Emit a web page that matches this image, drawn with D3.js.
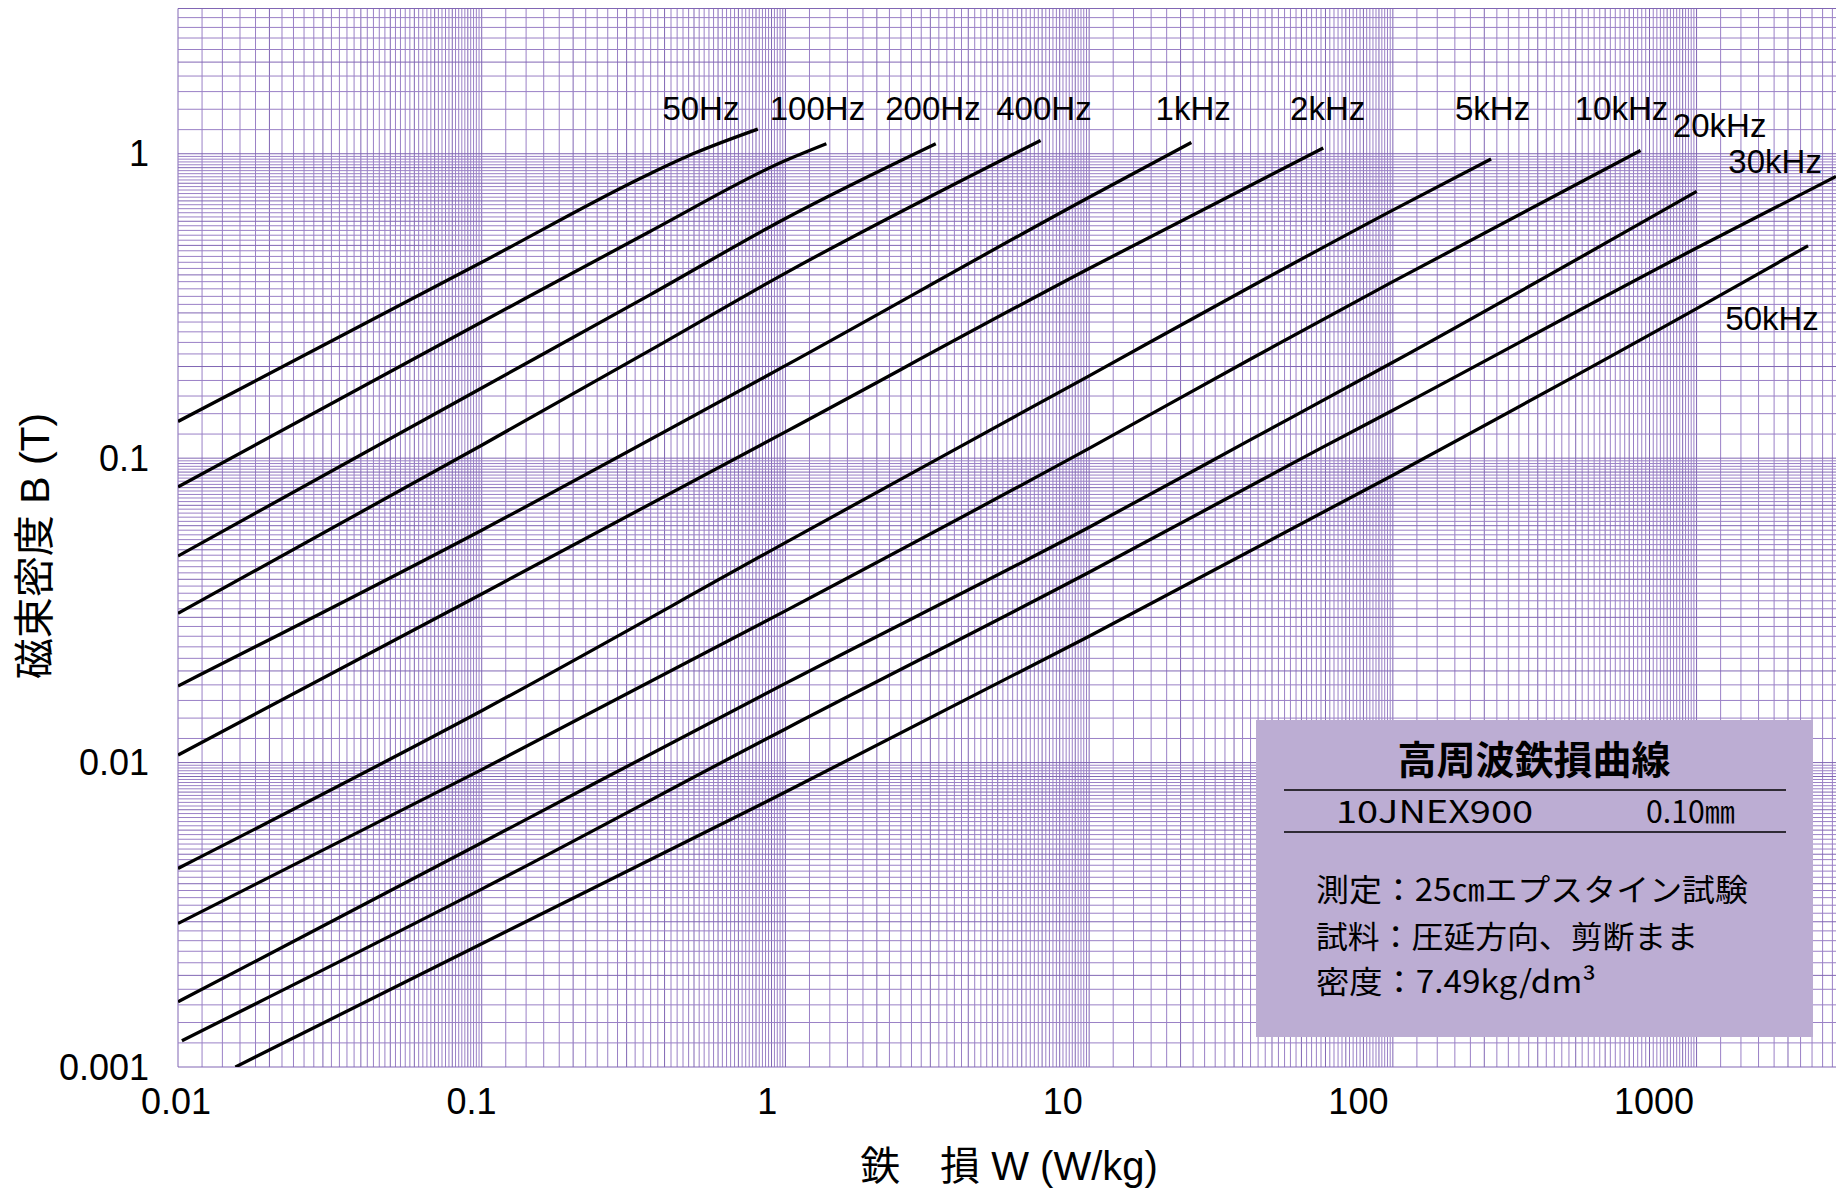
<!DOCTYPE html>
<html><head><meta charset="utf-8">
<script src="https://cdn.jsdelivr.net/npm/d3@7"></script>
<style>body{margin:0;background:#fff}</style>
</head><body>
<svg id="chart" width="1836" height="1190"></svg>
<script>
// ---------- data ----------
const frequencies = ["50Hz","100Hz","200Hz","400Hz","1kHz","2kHz","5kHz","10kHz","20kHz","30kHz","50kHz"];
// [iron loss W (W/kg), flux density B (T)]
const s50Hz  = [[0.01,0.132],[0.1,0.44],[0.358,0.86],[0.503,1.005],[0.811,1.205]];
const s100Hz = [[0.01,0.0805],[0.1,0.28],[0.358,0.5555],[1,0.95],[1.364,1.079]];
const s200Hz = [[0.01,0.0477],[0.1,0.17],[0.358,0.344],[1,0.613],[3.126,1.079]];
const s400Hz = [[0.01,0.0309],[0.1,0.1103],[0.358,0.226],[1,0.4054],[6.92,1.106]];
const s1kHz  = [[0.01,0.01785],[0.1,0.058],[1,0.2013],[10,0.72],[21.7,1.089]];
const s2kHz  = [[0.01,0.01059],[0.1,0.0358],[1,0.122],[10,0.42],[59,1.044]];
const s5kHz  = [[0.01,0.00449],[0.1,0.0148],[1,0.0528],[10,0.1864],[33.9,0.365],[100,0.653],[210.6,0.961]];
const s10kHz = [[0.01,0.00296],[0.1,0.00948],[1,0.0315],[10,0.1077],[33.9,0.2113],[100,0.38],[654,1.025]];
const s20kHz = [[0.01,0.001637],[0.1,0.00545],[1,0.0182],[10,0.0593],[33.9,0.1148],[100,0.2065],[1001,0.752]];
const s30kHz = [[0.0103,0.00122],[0.1,0.00384],[1,0.0129],[10,0.0422],[58,0.1079],[100,0.1437],[1000,0.49],[2878,0.842]];
const s50kHz = [[0.01545,0.001],[0.1,0.00254],[1,0.008],[10,0.026],[100,0.0879],[1000,0.31],[2328,0.4985]];
const seriesList = [s50Hz,s100Hz,s200Hz,s400Hz,s1kHz,s2kHz,s5kHz,s10kHz,s20kHz,s30kHz,s50kHz];
// label anchor (data units)
const labelW = [0.527,1.275,3.06,7.10,22.0,61.0,213,566,1191,1814,1773];
const labelB = [1.293,1.293,1.293,1.293,1.293,1.293,1.293,1.293,1.137,0.864,0.264];
const xTickLabels = ["0.01","0.1","1","10","100","1000"];
const yTickLabels = ["0.001","0.01","0.1","1"];
const xTitle = "鉄　損 W (W/kg)";
const yTitle = "磁束密度 B (T)";
const boxTitle = "高周波鉄損曲線";
const boxGrade = "10JNEX900";
const boxThick = "0.10㎜";
const boxNotes = ["測定：25㎝エプスタイン試験","試料：圧延方向、剪断まま","密度：7.49kg/dm³"];

// ---------- layout ----------
const svg = d3.select("#chart");
const L = 178, R = 1836, T = 8.5, B = 1067;
const x = d3.scaleLog().domain([0.01, 2878]).range([L, R]);
const y = d3.scaleLog().domain([0.001, 3]).range([B, T]);
const xLab = d3.scaleLog().domain([0.01, 1000]).range([176, 1654]);

svg.append("defs").append("clipPath").attr("id","clip")
  .append("rect").attr("x",L).attr("y",T).attr("width",R-L).attr("height",B-T);

// graph-paper grid
function gridVals(lo, hi, e0, e1){
  const v=[];
  for(let e=e0;e<=e1;e++){
    for(let k=0;k<45;k++){
      const m=(10+2*k)/10;
      const val=+(m*Math.pow(10,e)).toPrecision(6);
      if(val>=lo*0.9999 && val<=hi*1.0001) v.push({v:val, major: (10+2*k)%10===0});
    }
  }
  return v;
}
const gx = gridVals(0.01, 2878, -2, 3);
const gy = gridVals(0.001, 3, -3, 0);
const grid = svg.append("g");
grid.selectAll(".vx").data(gx).join("line")
  .attr("x1",d=>x(d.v)).attr("x2",d=>x(d.v)).attr("y1",T).attr("y2",B)
  .attr("stroke",d=>d.major?"#8166b4":"#9a80c6").attr("stroke-width",1);
grid.selectAll(".hy").data(gy).join("line")
  .attr("y1",d=>y(d.v)).attr("y2",d=>y(d.v)).attr("x1",L).attr("x2",R)
  .attr("stroke",d=>d.major?"#8166b4":"#9a80c6").attr("stroke-width",1);

// curves
const line = d3.line().x(d=>x(d[0])).y(d=>y(d[1])).curve(d3.curveMonotoneX);
svg.append("g").attr("clip-path","url(#clip)").selectAll("path").data(seriesList).join("path")
  .attr("d",line).attr("fill","none").attr("stroke","#000").attr("stroke-width",3.3)
  .attr("stroke-linecap","butt");

// curve labels
svg.append("g").selectAll("text").data(frequencies).join("text")
  .attr("x",(d,i)=>x(labelW[i])).attr("y",(d,i)=>y(labelB[i]))
  .attr("text-anchor","middle")
  .style("font-family","'Liberation Sans', Arial, sans-serif").style("font-size","33px")
  .attr("fill","#000").text(d=>d);

// tick labels
const tickFont = "'Liberation Sans', Arial, sans-serif";
svg.append("g").selectAll("text").data(xTickLabels).join("text")
  .attr("x",d=>xLab(+d)).attr("y",1101).attr("dy","0.35em")
  .attr("text-anchor","middle").style("font-family",tickFont).style("font-size","36px").text(d=>d);
svg.append("g").selectAll("text").data(yTickLabels).join("text")
  .attr("x",149).attr("y",d=>y(+d)).attr("dy","0.35em")
  .attr("text-anchor","end").style("font-family",tickFont).style("font-size","36px").text(d=>d);

// axis titles
const titleFont = "'Liberation Sans', 'Noto Sans CJK JP', sans-serif";
svg.append("text").attr("x",1009).attr("y",1166).attr("dy","0.35em").attr("text-anchor","middle")
  .style("font-family",titleFont).style("font-size","40px").text(xTitle);
svg.append("text").attr("transform","translate(35,546) rotate(-90)").attr("dy","0.35em")
  .attr("text-anchor","middle").style("font-family",titleFont).style("font-size","41px").text(yTitle);

// info box
const box = svg.append("g");
box.append("rect").attr("x",1256).attr("y",720).attr("width",557).attr("height",317).attr("fill","#bcadd3");
const jp = "'Noto Sans CJK JP', sans-serif";
box.append("text").attr("x",1534).attr("y",760).attr("dy","0.36em").attr("text-anchor","middle")
  .style("font-family",jp).style("font-size","39px").style("font-weight","700").text(boxTitle);
box.append("line").attr("x1",1284).attr("x2",1786).attr("y1",790).attr("y2",790).attr("stroke","#000").attr("stroke-width",1.5);
box.append("line").attr("x1",1284).attr("x2",1786).attr("y1",832).attr("y2",832).attr("stroke","#000").attr("stroke-width",1.5);
box.append("text").attr("x",1336).attr("y",812).attr("dy","0.36em").attr("textLength",197).attr("lengthAdjust","spacingAndGlyphs")
  .style("font-family",jp).style("font-size","31px").text(boxGrade);
box.append("text").attr("x",1646).attr("y",812).attr("dy","0.36em").attr("textLength",89).attr("lengthAdjust","spacingAndGlyphs")
  .style("font-family",jp).style("font-size","31px").text(boxThick);
const noteY = [890, 937, 982];
const noteLen = [432, 382, 280];
box.selectAll(".note").data(boxNotes).join("text")
  .attr("x",1316).attr("y",(d,i)=>noteY[i]).attr("dy","0.36em")
  .attr("textLength",(d,i)=>noteLen[i]).attr("lengthAdjust","spacingAndGlyphs")
  .style("font-family",jp).style("font-size","31px").text(d=>d);
</script>
</body></html>
